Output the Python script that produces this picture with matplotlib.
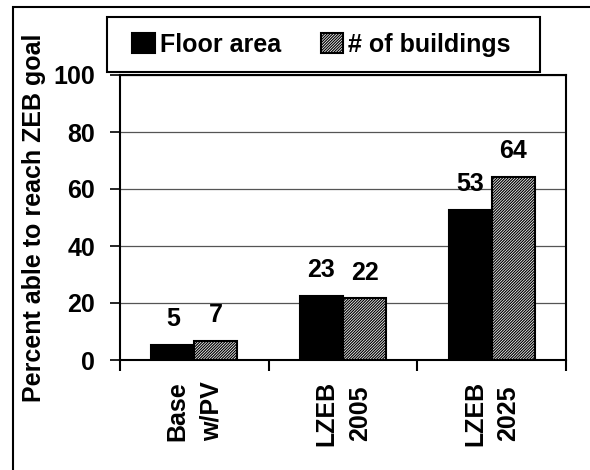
import matplotlib
matplotlib.use("Agg")
import numpy as np
import matplotlib.pyplot as plt
from matplotlib.patches import Rectangle

categories = ["Base\nw/PV", "LZEB\n2005", "LZEB\n2025"]
floor_area = [5.4, 22.6, 52.8]
n_buildings = [6.8, 21.6, 64.2]
series_names = ["Floor area", "# of buildings"]
yticks = [0, 20, 40, 60, 80, 100]

plt.rcParams['font.family'] = ['Liberation Sans', 'DejaVu Sans']
plt.rcParams['font.weight'] = 'bold'
plt.rcParams['hatch.linewidth'] = 0.85
FS = 18

fig = plt.figure(figsize=(5.9, 4.7), dpi=100)
ax = fig.add_axes([120 / 590, 1 - 360 / 470, 446 / 590, 285 / 470])

x = np.arange(len(categories))
w = 0.29
b1 = ax.bar(x - w / 2, floor_area, w, color='black', edgecolor='black',
            linewidth=1.5, label=series_names[0], zorder=3)
b2 = ax.bar(x + w / 2, n_buildings, w, color='white', edgecolor='black',
            hatch='/' * 12, linewidth=1.5, label=series_names[1], zorder=3)

# value labels above the bars
for bars, vals in ((b1, floor_area), (b2, n_buildings)):
    for r, v in zip(bars, vals):
        ax.annotate(f"{v:.0f}", (r.get_x() + r.get_width() / 2, v),
                    xytext=(0, 13.5), textcoords='offset points',
                    ha='center', va='baseline', fontsize=FS, fontweight='bold')

ax.set_xlim(-0.5, len(categories) - 0.5)
ax.set_ylim(0, 100)
ax.set_yticks(yticks)
ax.set_yticklabels([str(t) for t in yticks], fontsize=FS, fontweight='bold')
ax.tick_params(axis='y', direction='out', length=7, width=1.2, pad=11)

# boundary ticks (major) and category labels (minor)
ax.set_xticks(np.arange(-0.5, len(categories), 1.0))
ax.set_xticklabels([])
ax.tick_params(axis='x', which='major', direction='out', length=8, width=1.5)
ax.set_xticks(x, categories, minor=True, rotation=90, fontsize=FS,
              fontweight='bold', linespacing=1.5)
ax.tick_params(axis='x', which='minor', length=0, pad=15)

ax.grid(axis='y', color='#555555', linewidth=0.9, zorder=0)
ax.set_axisbelow(True)
for s in ax.spines.values():
    s.set_linewidth(1.5)
    s.set_color('black')

ax.set_ylabel("Percent able to reach ZEB goal", fontsize=FS, fontweight='bold')
ax.yaxis.set_label_coords(-0.165, 0.5)

leg = ax.legend(loc='center', bbox_to_anchor=(0.545, 0.905),
                bbox_transform=fig.transFigure, ncol=2, fontsize=FS,
                frameon=False, handlelength=0.9,
                handleheight=0.83, handletextpad=0.2, columnspacing=1.6)
for t in leg.get_texts():
    t.set_fontweight('bold')

# legend box, drawn separately
fig.add_artist(Rectangle((107.5 / 590, 1 - 72 / 470), 432.5 / 590, 55 / 470,
                         transform=fig.transFigure, fill=False,
                         edgecolor='black', linewidth=1.5))

# outer frame (cut off at right and bottom)
fig.add_artist(Rectangle((13 / 590, -0.1), 1.2, 1.085, transform=fig.transFigure,
                         fill=False, edgecolor='black', linewidth=1.5))

fig.savefig("out.png", dpi=100)
